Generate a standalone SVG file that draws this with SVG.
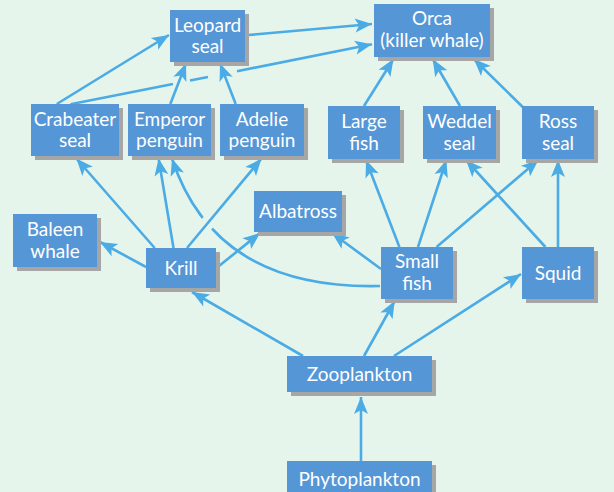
<svg xmlns="http://www.w3.org/2000/svg" width="614" height="492" viewBox="0 0 614 492">
<style>
.bg{fill:#e6f5ec}
.box{fill:#5596d6}
.sh{fill:#a6a6a6}
.t{font-family:Lato,"Open Sans",sans-serif;font-size:19px;fill:#ffffff;text-anchor:middle}
.e{stroke:#4aabe5;stroke-width:2.6;fill:none;marker-end:url(#ah)}
.l{stroke:#4aabe5;stroke-width:2.6;fill:none}
.halo{stroke:#e6f5ec;stroke-width:14;fill:none}
</style>
<defs>
<marker id="ah" markerUnits="userSpaceOnUse" viewBox="-18 -8 19 16" refX="0" refY="0" markerWidth="19" markerHeight="16" orient="auto">
<path d="M0,0 L-17,-7 L-13,0 L-17,7 Z" fill="#4aabe5"/>
</marker>
</defs>
<rect class="bg" x="0" y="0" width="614" height="492"/>

<g id="connectors">
<line class="e" x1="361" y1="461" x2="361" y2="397"/>
<line class="e" x1="303" y1="356" x2="192" y2="292"/>
<line class="e" x1="364" y1="356" x2="394.7" y2="301"/>
<line class="e" x1="394" y1="356" x2="521" y2="274"/>
<line class="e" x1="146" y1="267" x2="100" y2="242"/>
<line class="e" x1="216.5" y1="268" x2="260" y2="233"/>
<line class="e" x1="154.7" y1="248" x2="76.4" y2="158.5"/>
<line class="e" x1="173.5" y1="248" x2="158.6" y2="158.5"/>
<path class="e" d="M380,286 Q215,290 172,158.5"/>
<line class="halo" x1="203" y1="228.6" x2="217" y2="211.6"/>
<line class="e" x1="187" y1="248" x2="261.5" y2="158.5"/>
<line class="e" x1="381" y1="269" x2="332" y2="233"/>
<line class="e" x1="399.4" y1="247" x2="366" y2="160"/>
<line class="e" x1="418" y1="247" x2="446.4" y2="160"/>
<line class="e" x1="436.6" y1="247" x2="538.4" y2="160"/>
<line class="e" x1="545.4" y1="247" x2="466" y2="160"/>
<line class="e" x1="558" y1="247" x2="558" y2="160"/>
<line class="e" x1="56.8" y1="104" x2="169" y2="35"/>
<line class="l" x1="70.5" y1="104.3" x2="173" y2="83.9"/>
<line class="l" x1="190" y1="80.5" x2="208" y2="76.9"/>
<line class="e" x1="237" y1="71.2" x2="372" y2="44.3"/>
<line class="e" x1="170.3" y1="104" x2="186" y2="63.5"/>
<line class="e" x1="235.7" y1="104" x2="220" y2="63.5"/>
<line class="e" x1="248.6" y1="35" x2="372" y2="24"/>
<line class="e" x1="364" y1="106" x2="393.5" y2="59"/>
<line class="e" x1="460" y1="106" x2="432.7" y2="59"/>
<line class="e" x1="522.7" y1="107" x2="473.8" y2="59"/>
</g>

<g id="leopard"><rect class="sh" x="174" y="14" width="75" height="52"/><rect class="box" x="170" y="10" width="75" height="52"/><text class="t" x="207.5" y="31.5">Leopard</text><text class="t" x="207.5" y="53">seal</text></g>
<g id="orca"><rect class="sh" x="378" y="8" width="116" height="53"/><rect class="box" x="374" y="4" width="116" height="53"/><text class="t" x="432" y="25">Orca</text><text class="t" x="432" y="46.5">(killer whale)</text></g>
<g id="crabeater"><rect class="sh" x="35" y="108" width="88" height="52"/><rect class="box" x="31" y="104" width="88" height="52"/><text class="t" x="75" y="125.5">Crabeater</text><text class="t" x="75" y="147">seal</text></g>
<g id="emperor"><rect class="sh" x="132" y="108" width="83" height="52"/><rect class="box" x="128" y="104" width="83" height="52"/><text class="t" x="169.5" y="125.5">Emperor</text><text class="t" x="169.5" y="147">penguin</text></g>
<g id="adelie"><rect class="sh" x="224" y="108" width="84" height="52"/><rect class="box" x="220" y="104" width="84" height="52"/><text class="t" x="262" y="125.5">Adelie</text><text class="t" x="262" y="147">penguin</text></g>
<g id="largefish"><rect class="sh" x="332" y="110" width="72" height="53"/><rect class="box" x="328" y="106" width="72" height="53"/><text class="t" x="364" y="128">Large</text><text class="t" x="364" y="149.5">fish</text></g>
<g id="weddel"><rect class="sh" x="427" y="110" width="73" height="53"/><rect class="box" x="423" y="106" width="73" height="53"/><text class="t" x="459.5" y="128">Weddel</text><text class="t" x="459.5" y="149.5">seal</text></g>
<g id="ross"><rect class="sh" x="526" y="110" width="72" height="53"/><rect class="box" x="522" y="106" width="72" height="53"/><text class="t" x="558" y="128">Ross</text><text class="t" x="558" y="149.5">seal</text></g>
<g id="baleen"><rect class="sh" x="17" y="218" width="84" height="53"/><rect class="box" x="13" y="214" width="84" height="53"/><text class="t" x="55" y="235.5">Baleen</text><text class="t" x="55" y="257.5">whale</text></g>
<g id="albatross"><rect class="sh" x="258" y="195" width="88" height="41"/><rect class="box" x="254" y="191" width="88" height="41"/><text class="t" x="298" y="218">Albatross</text></g>
<g id="krill"><rect class="sh" x="150" y="252" width="70" height="40"/><rect class="box" x="146" y="248" width="70" height="40"/><text class="t" x="181" y="275">Krill</text></g>
<g id="smallfish"><rect class="sh" x="385" y="251" width="72" height="52"/><rect class="box" x="381" y="247" width="72" height="52"/><text class="t" x="417" y="267.5">Small</text><text class="t" x="417" y="290">fish</text></g>
<g id="squid"><rect class="sh" x="526" y="251" width="72" height="52"/><rect class="box" x="522" y="247" width="72" height="52"/><text class="t" x="558" y="280">Squid</text></g>
<g id="zooplankton"><rect class="sh" x="291" y="360" width="145" height="36"/><rect class="box" x="287" y="356" width="145" height="36"/><text class="t" x="359.5" y="380.5">Zooplankton</text></g>
<g id="phytoplankton"><rect class="sh" x="291" y="465" width="145" height="40"/><rect class="box" x="287" y="461" width="145" height="40"/><text class="t" x="359.5" y="486">Phytoplankton</text></g>
</svg>
